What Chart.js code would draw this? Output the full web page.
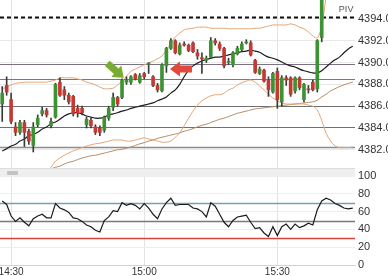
<!DOCTYPE html>
<html>
<head>
<meta charset="utf-8">
<script src="https://cdn.jsdelivr.net/npm/chart.js@4.4.0/dist/chart.umd.min.js"></script>
<style>
  html, body { margin: 0; padding: 0; background: #fff; }
  #wrap { position: relative; width: 388px; height: 276px; overflow: hidden; }
  #main { position: absolute; left: 0; top: 0; }
  #strip { position: absolute; left: 0; top: 168px; width: 355px; height: 7px; background: #efefef;
           border-top: 1px solid #dcdcdc; border-bottom: 1px solid #dcdcdc; }
  #handle { position: absolute; left: 7px; top: 2px; width: 11px; height: 4px; background: #c3c3c3; border-radius: 1px; }
  #rsi { position: absolute; left: 0; top: 170px; }
</style>
</head>
<body>
<div id="wrap">
  <canvas id="main" width="388" height="168"></canvas>
  <div id="strip"><div id="handle"></div></div>
  <canvas id="rsi" width="388" height="106"></canvas>
</div>
<script>
'use strict';

// one-minute candles, first bar at 14:28
const firstMinute = 14 * 60 + 28;
const tickLabels = ['14:30', '15:00', '15:30'];
const priceTicks = [4382, 4384, 4386, 4388, 4390, 4392, 4394];
const rsiTicks = [0, 20, 40, 60, 80, 100];

const open = [
  4386.2, 4387.9, 4386.6, 4384.1, 4383.6, 4384.5, 4383.7, 4382.4, 4384.3, 4385.3,
  4385.6, 4384.2, 4385.0, 4388.2, 4387.5, 4387.0, 4386.9, 4385.8, 4385.8, 4384.3,
  4384.7, 4384.1, 4384.0, 4383.8, 4384.9, 4385.9, 4386.8, 4386.8, 4388.2, 4388.2,
  4388.9, 4388.2, 4389.0, 4389.85, 4388.7, 4387.9, 4387.4, 4389.7, 4391.3, 4392.0,
  4390.8, 4391.7, 4391.6, 4391.8, 4390.9, 4390.45, 4390.2, 4390.5, 4392.0, 4391.7,
  4391.3, 4390.0, 4389.8, 4390.8, 4391.2, 4391.8, 4391.8, 4390.2, 4389.0, 4389.3,
  4388.4, 4387.3, 4389.2, 4386.4, 4388.6, 4388.6, 4387.4, 4388.6, 4386.6, 4387.6,
  4388.2, 4387.6, 4392.3
];
const high = [
  4387.8, 4388.7, 4387.2, 4384.5, 4384.7, 4384.7, 4383.9, 4384.5, 4385.2, 4385.9,
  4385.8, 4384.9, 4388.1, 4388.6, 4387.8, 4387.2, 4387.0, 4386.1, 4386.0, 4385.0,
  4384.9, 4384.3, 4384.2, 4385.1, 4386.0, 4387.2, 4386.9, 4388.5, 4388.7, 4388.8,
  4389.0, 4389.0, 4389.1, 4390.0, 4388.8, 4388.1, 4389.9, 4391.4, 4392.2, 4392.1,
  4391.8, 4391.9, 4391.7, 4391.9, 4391.2, 4390.9, 4390.6, 4392.3, 4392.2, 4391.9,
  4391.4, 4390.4, 4391.0, 4391.5, 4391.9, 4392.1, 4392.0, 4390.3, 4389.6, 4389.4,
  4388.7, 4389.1, 4389.5, 4388.8, 4388.8, 4388.7, 4388.7, 4388.7, 4388.1, 4387.9,
  4388.4, 4392.1, 4397.0
];
const low = [
  4384.6, 4387.0, 4384.4, 4383.3, 4383.4, 4382.3, 4382.5, 4381.8, 4384.1, 4385.1,
  4385.0, 4384.0, 4384.9, 4386.9, 4386.6, 4386.2, 4385.1, 4385.0, 4385.2, 4384.0,
  4384.0, 4383.4, 4383.3, 4383.6, 4384.7, 4385.6, 4386.0, 4386.7, 4388.0, 4388.0,
  4388.4, 4388.1, 4388.5, 4389.0, 4387.8, 4387.3, 4387.3, 4389.1, 4391.2, 4390.8,
  4390.7, 4391.5, 4391.0, 4390.9, 4390.3, 4389.0, 4390.0, 4390.4, 4391.6, 4391.1,
  4389.5, 4389.8, 4389.6, 4390.7, 4391.0, 4391.7, 4390.6, 4389.0, 4388.9, 4388.2,
  4386.9, 4387.2, 4385.8, 4386.0, 4387.9, 4386.9, 4387.2, 4387.5, 4386.4, 4387.2,
  4387.4, 4387.3, 4391.9
];
const close = [
  4387.2, 4387.3, 4384.6, 4383.6, 4384.5, 4383.6, 4382.8, 4384.1, 4384.9, 4385.6,
  4385.2, 4384.6, 4388.0, 4387.0, 4387.0, 4386.4, 4385.3, 4385.4, 4385.4, 4384.8,
  4384.2, 4383.6, 4383.6, 4385.0, 4385.8, 4386.8, 4386.2, 4388.4, 4388.4, 4388.7,
  4388.5, 4388.8, 4388.7, 4389.95, 4387.9, 4387.5, 4389.8, 4391.3, 4392.0, 4390.9,
  4391.6, 4391.6, 4391.1, 4391.0, 4390.6, 4390.35, 4390.4, 4392.0, 4391.8, 4391.3,
  4389.7, 4390.1, 4390.9, 4391.3, 4391.7, 4391.9, 4390.7, 4389.1, 4389.4, 4388.3,
  4387.5, 4389.0, 4386.6, 4388.6, 4388.4, 4387.1, 4388.6, 4387.7, 4388.0, 4387.5,
  4387.5, 4392.0, 4396.5
];

const maFast = [
  4381.9, 4382.1, 4382.35, 4382.5, 4382.8, 4383.0, 4383.3, 4383.4, 4383.6, 4383.9,
  4384.1, 4384.4, 4384.55, 4384.8, 4385.1, 4385.3, 4385.4, 4385.4, 4385.3, 4385.1,
  4385.0, 4384.9, 4384.9, 4385.0, 4385.2, 4385.3, 4385.4, 4385.55, 4385.65, 4385.8,
  4385.9, 4386.0, 4386.1, 4386.2, 4386.3, 4386.5, 4386.65, 4386.85, 4387.2, 4387.5,
  4388.0, 4388.7, 4389.3, 4389.7, 4389.95, 4390.15, 4390.3, 4390.4, 4390.5, 4390.5,
  4390.6, 4390.7, 4390.8, 4390.9, 4391.0, 4391.05, 4391.15, 4391.05, 4390.95, 4390.7,
  4390.5, 4390.4, 4390.25, 4390.05, 4389.85, 4389.7, 4389.6, 4389.4, 4389.25, 4389.15,
  4389.05, 4389.05, 4389.25, 4389.6, 4389.95, 4390.25, 4390.5, 4390.9, 4391.25, 4391.5
];
const bandUpper = [
  4387.6, 4387.75, 4387.95, 4388.1, 4388.15, 4388.2, 4388.2, 4388.2, 4388.2, 4388.2,
  4388.2, 4388.3, 4388.4, 4388.6, 4388.6, 4388.6, 4388.6, 4388.5, 4388.4, 4388.2,
  4388.1, 4387.95, 4387.75, 4387.6, 4387.6, 4387.65, 4387.95, 4388.3, 4388.75, 4389.2,
  4389.4, 4389.6, 4389.8, 4389.95, 4390.15, 4390.35, 4390.6, 4391.15, 4391.8, 4392.35,
  4392.7, 4393.0, 4393.1, 4393.15, 4393.25, 4393.25, 4393.25, 4393.15, 4393.15, 4393.15,
  4393.15, 4393.1, 4393.1, 4393.1, 4393.1, 4393.1, 4393.1, 4393.15, 4393.15, 4393.25,
  4393.35, 4393.45, 4393.45, 4393.45, 4393.45, 4393.55, 4393.45, 4393.25, 4393.1, 4392.8,
  4392.45, 4392.25, 4393.3, 4396.0, 4397.6, 4398.8, 4399.7, 4400.4, 4401.0, 4401.4
];
const bandLower = [
  4376.2, 4376.4, 4376.8, 4377.0, 4377.4, 4377.8, 4378.3, 4378.5, 4379.0, 4379.6,
  4380.0, 4380.4, 4380.95, 4381.25, 4381.5, 4381.7, 4381.9, 4382.05, 4382.2, 4382.35,
  4382.45, 4382.55, 4382.6, 4382.7, 4382.8, 4382.9, 4382.9, 4382.9, 4382.8, 4382.8,
  4382.9, 4383.0, 4383.1, 4383.0, 4382.9, 4382.8, 4382.7, 4382.7, 4382.8, 4383.15,
  4383.55, 4384.2, 4384.9, 4385.55, 4386.1, 4386.5, 4386.75, 4386.95, 4387.05, 4387.05,
  4387.2, 4387.5, 4387.65, 4387.95, 4388.15, 4388.3, 4388.4, 4388.2, 4387.85, 4387.5,
  4387.1, 4386.75, 4386.5, 4386.3, 4386.2, 4386.2, 4386.2, 4386.2, 4386.2, 4386.1,
  4386.0, 4385.65, 4384.7, 4383.5, 4382.8, 4382.35, 4382.2, 4382.2, 4382.2, 4382.25
];
const maSlow = [
  4378.85, 4378.95, 4379.15, 4379.25, 4379.3, 4379.45, 4379.6, 4379.7, 4379.85, 4379.95,
  4380.1, 4380.25, 4380.4, 4380.5, 4380.7, 4380.85, 4380.95, 4381.1, 4381.25, 4381.35,
  4381.45, 4381.5, 4381.6, 4381.7, 4381.8, 4381.9, 4382.0, 4382.05, 4382.15, 4382.25,
  4382.4, 4382.55, 4382.65, 4382.8, 4382.9, 4383.05, 4383.15, 4383.25, 4383.35, 4383.45,
  4383.55, 4383.7, 4383.8, 4383.95, 4384.1, 4384.25, 4384.35, 4384.5, 4384.65, 4384.8,
  4384.9, 4385.05, 4385.2, 4385.35, 4385.45, 4385.55, 4385.65, 4385.75, 4385.8, 4385.85,
  4385.9, 4385.95, 4386.0, 4386.05, 4386.1, 4386.15, 4386.2, 4386.25, 4386.3, 4386.35,
  4386.4, 4386.55, 4386.85, 4387.1, 4387.4, 4387.6, 4387.8, 4387.95, 4388.1, 4388.2
];
const rsi = [
  72, 68, 55, 49, 53, 48, 44, 52, 55, 57,
  53, 53, 69, 64, 62, 59, 53, 52, 49, 45,
  43, 39, 37, 50, 54, 61, 60, 70, 67, 69,
  67, 63, 69, 64, 57, 52, 63, 70, 75, 67,
  68, 68, 68, 64, 63, 60, 54, 70, 66, 57,
  48, 43, 50, 54, 55, 56, 48, 41, 42, 36,
  32, 43, 33, 43, 46, 40, 46, 42, 44, 47,
  45, 62, 72, 75, 73, 69, 67, 64, 63, 64
];

// pivot / support lines across the price panel
const pivotLevels = [4394.2, 4389.9, 4388.5, 4386.0, 4384.1, 4382.3];
const pivotStyle = [
  { color: '#111', width: 2, dash: [4, 3] },
  { color: '#7c7284', width: 1, dash: [] },
  { color: '#d4524c', width: 1, dash: [] },
  { color: '#707070', width: 1, dash: [] },
  { color: '#707070', width: 1, dash: [] },
  { color: '#8c8c8c', width: 1.5, dash: [] },
];
const rsiLevels = [70, 50, 30];
const rsiLevelColors = ['#76a2a6', '#7a7a7a', '#d9443e'];

// signal arrows: slot (bar index) and price at the arrow tip
const arrows = [
  { slot: 27.4, price: 4388.6, angle: 0.72, color: '#78ad2f' },
  { slot: 37.8, price: 4389.4, angle: Math.PI, color: '#e2483d' },
];
const pivLabel = { slot: 77.5, price: 4394.9, text: 'PIV' };

const labels = rsi.map((_, k) => {
  const m = firstMinute + k;
  return Math.floor(m / 60) + ':' + String(m % 60).padStart(2, '0');
});
const bodies = open.map((o, k) => [o, close[k]]);
const wicks = low.map((l, k) => [l, high[k]]);
const bodyColors = open.map((o, k) => close[k] >= o ? '#3d9334' : '#c33a35');

const FONT = '"Liberation Sans", Arial, sans-serif';
const vGrid = ctx => tickLabels.includes(labels[ctx.index]) ? '#e3e3e3' : 'rgba(0,0,0,0)';

function drawArrow(ctx, x, y, angle, color) {
  const len = 22, shaft = 7, headW = 15, headL = 10;
  ctx.save();
  ctx.translate(x, y);
  ctx.rotate(angle);
  ctx.beginPath();
  ctx.moveTo(0, 0);
  ctx.lineTo(-headL, -headW / 2);
  ctx.lineTo(-headL, -shaft / 2);
  ctx.lineTo(-len, -shaft / 2);
  ctx.lineTo(-len, shaft / 2);
  ctx.lineTo(-headL, shaft / 2);
  ctx.lineTo(-headL, headW / 2);
  ctx.closePath();
  ctx.fillStyle = color;
  ctx.fill();
  ctx.restore();
}

const priceOverlay = {
  id: 'priceOverlay',
  beforeDatasetsDraw(chart) {
    const { ctx, chartArea: a, scales: { y } } = chart;
    ctx.save();
    ctx.beginPath();
    ctx.rect(a.left, a.top, a.width, a.height);
    ctx.clip();
    pivotLevels.forEach((v, n) => {
      const s = pivotStyle[n];
      const py = Math.round(y.getPixelForValue(v)) + 0.5;
      ctx.strokeStyle = s.color;
      ctx.lineWidth = s.width;
      ctx.setLineDash(s.dash);
      ctx.beginPath();
      ctx.moveTo(a.left, py);
      ctx.lineTo(a.right, py);
      ctx.stroke();
    });
    ctx.restore();
  },
  afterDatasetsDraw(chart) {
    const { ctx, scales: { x, y } } = chart;
    arrows.forEach(ar => drawArrow(ctx, x.getPixelForValue(ar.slot), y.getPixelForValue(ar.price), ar.angle, ar.color));
    ctx.save();
    ctx.font = '9px ' + FONT;
    ctx.fillStyle = '#555';
    ctx.textAlign = 'center';
    ctx.textBaseline = 'middle';
    ctx.fillText(pivLabel.text, x.getPixelForValue(pivLabel.slot), y.getPixelForValue(pivLabel.price));
    ctx.restore();
  },
};

const rsiOverlay = {
  id: 'rsiOverlay',
  beforeDatasetsDraw(chart) {
    const { ctx, chartArea: a, scales: { y } } = chart;
    ctx.save();
    rsiLevels.forEach((v, n) => {
      const py = Math.round(y.getPixelForValue(v)) + 0.5;
      ctx.strokeStyle = rsiLevelColors[n];
      ctx.lineWidth = 1.3;
      ctx.beginPath();
      ctx.moveTo(a.left, py);
      ctx.lineTo(a.right, py);
      ctx.stroke();
    });
    ctx.restore();
  },
};

const lineDs = (data, color, width, order) => ({
  type: 'line', data, borderColor: color, borderWidth: width,
  pointRadius: 0, tension: 0.3, fill: false, order,
});

new Chart(document.getElementById('main'), {
  type: 'bar',
  data: {
    labels,
    datasets: [
      { type: 'bar', data: bodies, backgroundColor: bodyColors, barThickness: 3, minBarLength: 1, grouped: false, order: 0 },
      { type: 'bar', data: wicks, backgroundColor: '#3a3a3a', barThickness: 1, grouped: false, order: 1 },
      lineDs(maFast, '#1c1c1c', 1.2, 2),
      lineDs(bandUpper, '#e2a676', 1, 3),
      lineDs(bandLower, '#e2a676', 1, 4),
      lineDs(maSlow, '#b38c66', 1, 5),
    ],
  },
  options: {
    responsive: false,
    animation: false,
    events: [],
    layout: { padding: 0 },
    plugins: { legend: { display: false }, tooltip: { enabled: false } },
    scales: {
      x: {
        offset: true,
        grid: { offset: false, drawTicks: false, color: vGrid },
        ticks: { display: false, autoSkip: false },
        border: { display: false },
        afterFit: s => { s.height = 0; s.paddingLeft = 0; s.paddingRight = 0; },
      },
      y: {
        position: 'right',
        min: 4380.33,
        max: 4395.74,
        afterBuildTicks: s => { s.ticks = priceTicks.map(v => ({ value: v })); },
        ticks: { callback: v => Number(v).toFixed(1), color: '#333', padding: 3, font: { family: FONT, size: 11 } },
        grid: { color: '#e9e9e9', drawTicks: false },
        border: { display: false },
        afterFit: s => { s.width = 33; s.paddingTop = 0; s.paddingBottom = 0; },
      },
    },
  },
  plugins: [priceOverlay],
});

new Chart(document.getElementById('rsi'), {
  type: 'line',
  data: {
    labels,
    datasets: [{ data: rsi, borderColor: '#1c1c1c', borderWidth: 1.2, pointRadius: 0, tension: 0, fill: false }],
  },
  options: {
    responsive: false,
    animation: false,
    events: [],
    layout: { padding: { top: 6 } },
    plugins: { legend: { display: false }, tooltip: { enabled: false } },
    scales: {
      x: {
        offset: true,
        grid: { offset: false, drawTicks: false, color: vGrid },
        ticks: {
          autoSkip: false, maxRotation: 0, padding: 1, color: '#333',
          font: { family: FONT, size: 10 },
          callback: (v, k) => tickLabels.includes(labels[k]) ? labels[k] : '',
        },
        border: { color: '#d2d2d2' },
        afterFit: s => { s.height = 11; s.paddingLeft = 0; s.paddingRight = 0; },
      },
      y: {
        position: 'right',
        min: 0,
        max: 100,
        afterBuildTicks: s => { s.ticks = rsiTicks.map(v => ({ value: v })); },
        ticks: { color: '#333', padding: 3, font: { family: FONT, size: 11 } },
        grid: { color: '#eeeeee', drawTicks: false },
        border: { display: false },
        afterFit: s => { s.width = 33; s.paddingTop = 0; s.paddingBottom = 0; },
      },
    },
  },
  plugins: [rsiOverlay],
});
</script>
</body>
</html>
